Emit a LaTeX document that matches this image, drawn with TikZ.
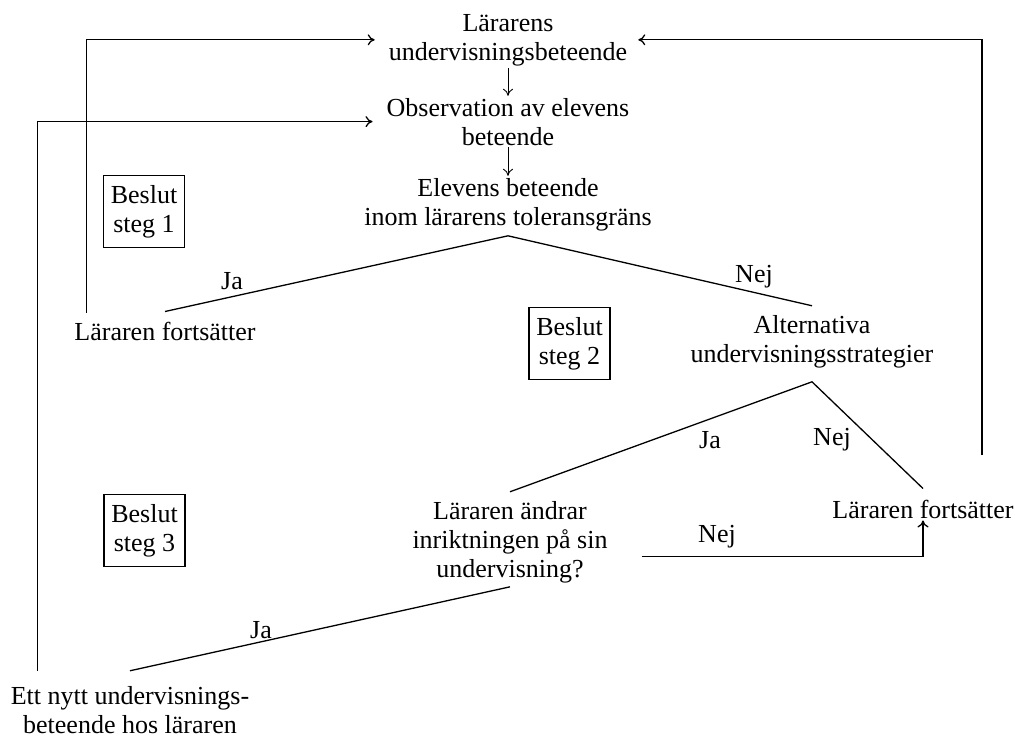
\documentclass[tikz,border=0pt]{standalone}
\usepackage{fontspec}
\setmainfont{Liberation Serif}
\usetikzlibrary{arrows.meta}
\begin{document}
\begin{tikzpicture}[x=1pt,y=-1pt,
  txt/.style={font=\fontsize{26}{29}\selectfont, align=center, inner sep=2pt},
  lbl/.style={font=\fontsize{26}{29}\selectfont, inner sep=0pt},
  stepbox/.style={draw, line width=1.3pt, font=\fontsize{26}{29}\selectfont, align=center, minimum width=81pt, minimum height=72pt, inner sep=0pt},
  conn/.style={line width=1.3pt},
  arr/.style={line width=1.3pt, -{To[length=7pt,width=11pt]}},
  darr/.style={line width=0.9pt, -{To[length=7pt,width=10pt]}}
]
\useasboundingbox (0,0) rectangle (1015,740);
% text nodes (base anchor = baseline of last line)
\node[txt, anchor=base] (top) at (508,60) {Lärarens\\undervisningsbeteende};
\node[txt, anchor=base] (obs) at (508,145) {Observation av elevens\\beteende};
\node[txt, anchor=base] (elev) at (508,225) {Elevens beteende\\inom lärarens toleransgräns};
\node[txt, anchor=base] (fort1) at (165,340) {Läraren fortsätter};
\node[txt, anchor=base] (alt) at (812,362) {Alternativa\\undervisningsstrategier};
\node[txt, anchor=base] (fort2) at (923,518) {Läraren fortsätter};
\node[txt, anchor=base] (andrar) at (510,577) {Läraren ändrar\\inriktningen på sin\\undervisning?};
\node[txt, anchor=base] (nytt) at (130,733) {Ett nytt undervisnings-\\beteende hos läraren};
% decision step boxes
\node[stepbox] (b1) at (144,211.5) {Beslut\\steg 1};
\node[stepbox] (b2) at (569.5,343.5) {Beslut\\steg 2};
\node[stepbox] (b3) at (144.5,530.5) {Beslut\\steg 3};
% labels
\node[lbl] (ja1) at (232,281) {Ja};
\node[lbl] (nej1) at (754,277) {Nej};
\node[lbl] (ja2) at (710,440) {Ja};
\node[lbl] (nej2) at (832,440) {Nej};
\node[lbl] (nej3) at (717,537) {Nej};
\node[lbl] (ja3) at (261,630) {Ja};
% coordinates
\coordinate (apex1) at ([yshift=-3pt]elev.south);
\coordinate (apex2) at ([yshift=-12pt]alt.south);
\coordinate (r1) at (982,455);
% vertical arrows
\draw[darr] (top.south) -- (obs.north);
\draw[darr] (obs.south) -- (elev.north);
% decision branches
\draw[conn] ([yshift=8pt]fort1.north) -- (apex1) -- ([yshift=7pt]alt.north);
\draw[conn] ([yshift=7pt]andrar.north) -- (apex2) -- ([yshift=9pt]fort2.north);
\draw[conn] ([yshift=-2pt]andrar.south) -- ([yshift=13pt]nytt.north);
% feedback loops
\draw[arr] ([shift={(14.5pt,7pt)}]fort1.north west) |- ([xshift=-12pt]top.west);
\draw[arr] ([shift={(29pt,13pt)}]nytt.north west) |- ([xshift=-12pt]obs.west);
\draw[arr] (r1) |- ([xshift=9pt]top.east);
\draw[arr] ([shift={(32pt,-15pt)}]andrar.east) -| (fort2.south);
\end{tikzpicture}
\end{document}
